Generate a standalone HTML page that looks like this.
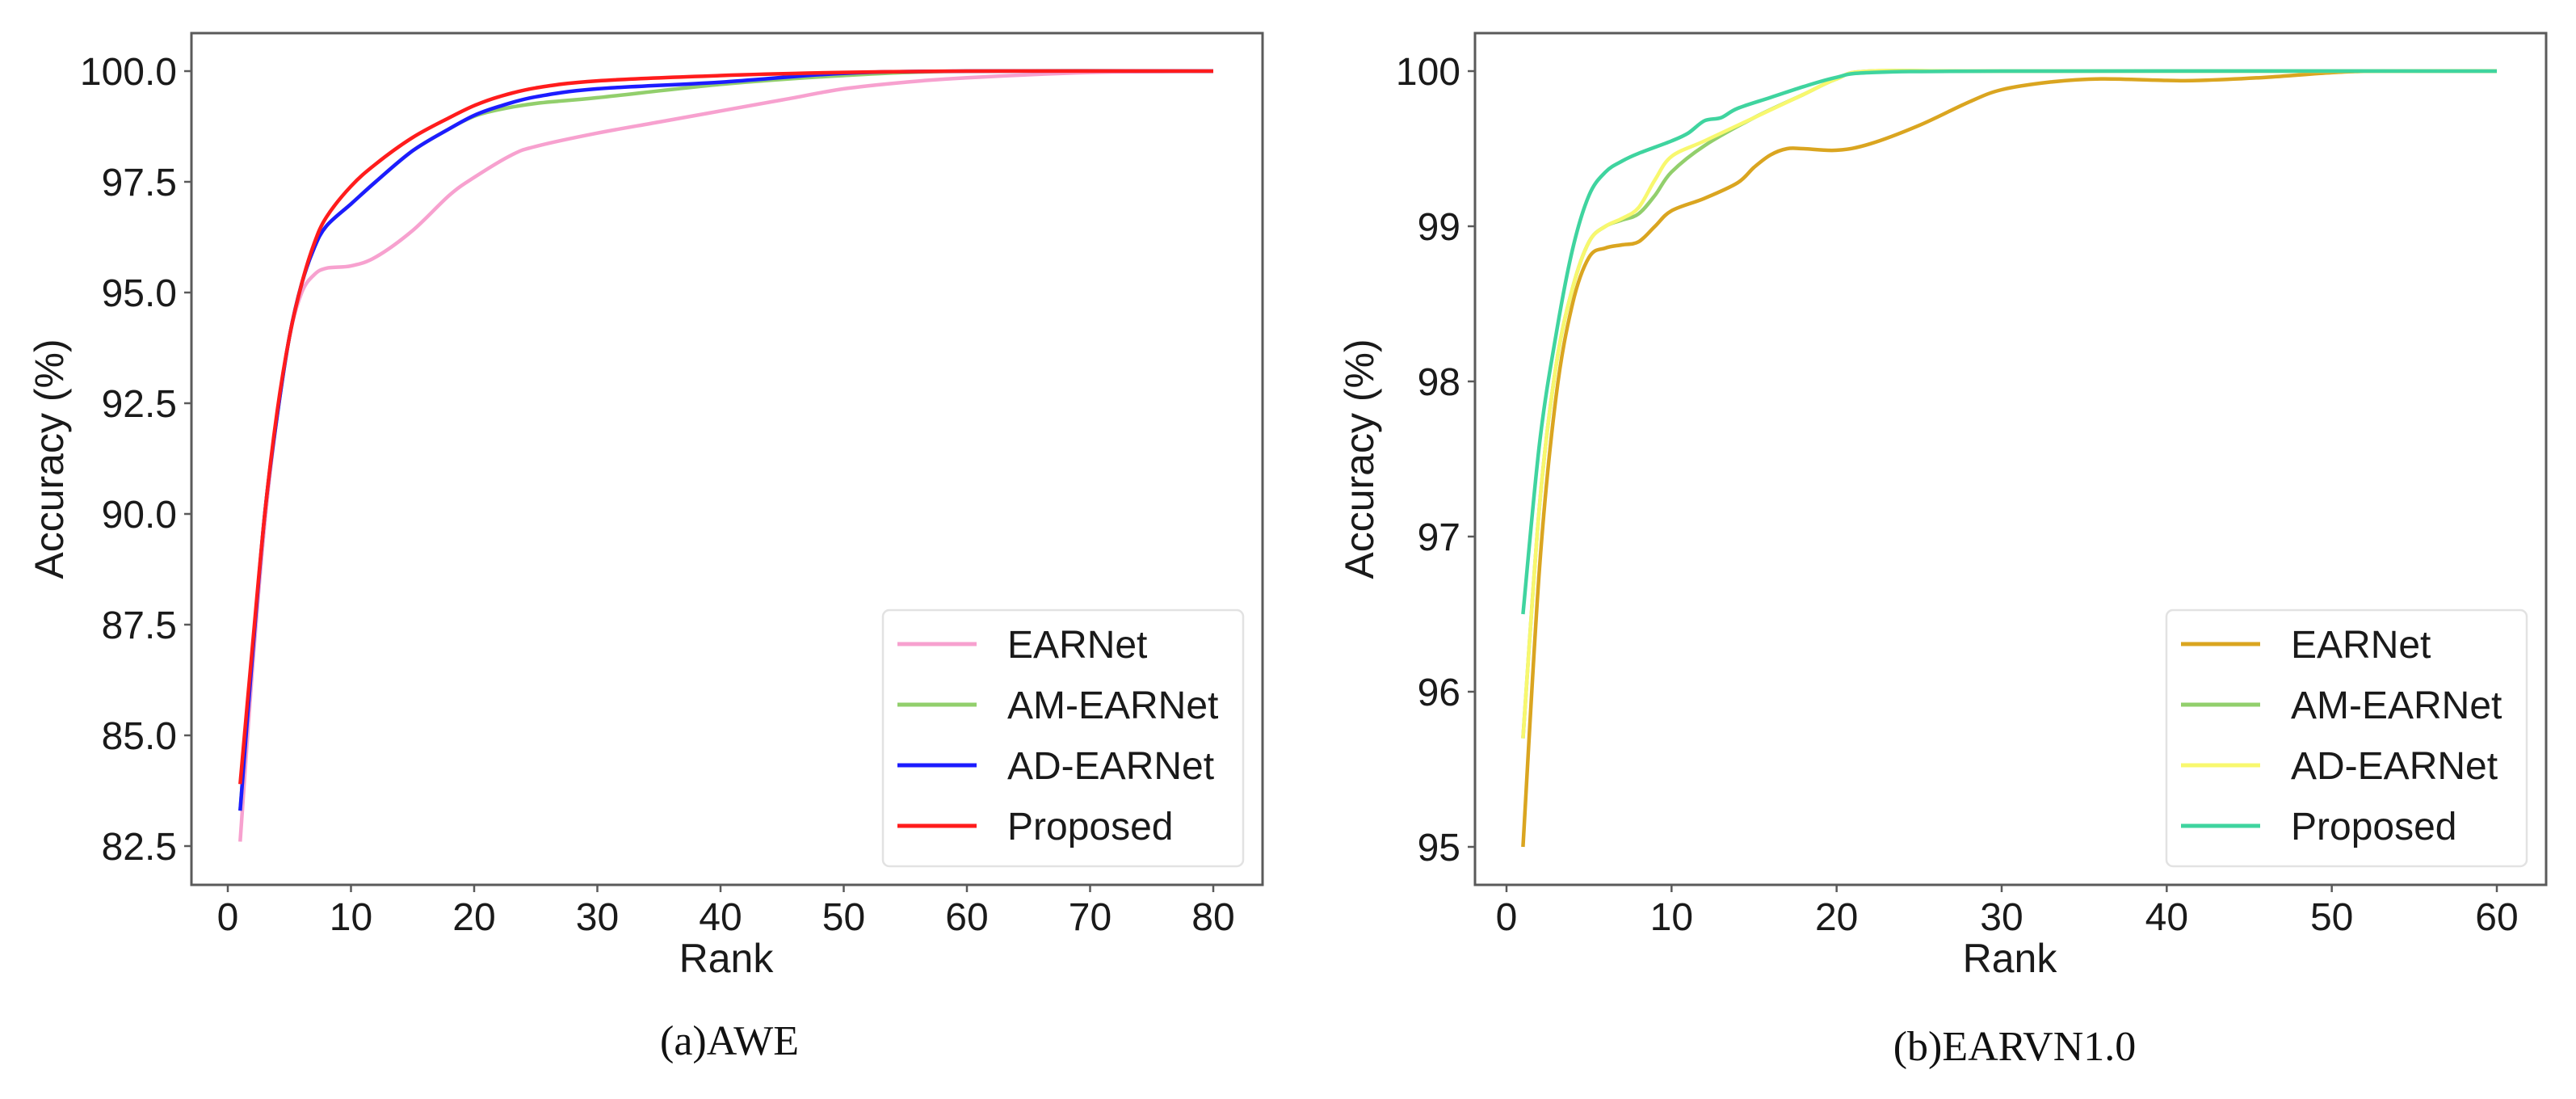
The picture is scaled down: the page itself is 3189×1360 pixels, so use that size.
<!DOCTYPE html>
<html><head><meta charset="utf-8">
<style>
html,body{margin:0;padding:0;background:#fff;}
svg{display:block;}
</style></head>
<body>
<svg id="fig" width="3189" height="1360" viewBox="0 0 3189 1360" xmlns="http://www.w3.org/2000/svg">
<rect x="0" y="0" width="3189" height="1360" fill="#fff"/>
</svg>
<script>
// ---- Panel (a) AWE data ----
const awe_x_ticks = [0,10,20,30,40,50,60,70,80];
const awe_y_ticks = [82.5,85.0,87.5,90.0,92.5,95.0,97.5,100.0];
const awe_y_labels = ["82.5","85.0","87.5","90.0","92.5","95.0","97.5","100.0"];
const awe_series_names = ["EARNet","AM-EARNet","AD-EARNet","Proposed"];
const awe_earnet_x = [1,2,3,4,5,6,7,8,10,12,15,18,20,23,25,30,35,40,45,50,55,60,70,80];
const awe_earnet_y = [82.6,86.5,89.8,92.2,94.0,95.0,95.4,95.55,95.6,95.8,96.4,97.2,97.6,98.1,98.3,98.6,98.85,99.1,99.35,99.6,99.75,99.85,99.97,100];
const awe_am_x = [1,2,3,4,5,6,7,8,10,12,15,18,20,22,25,30,40,50,60,80];
const awe_am_y = [83.3,86.8,90.0,92.2,94.0,95.2,96.0,96.5,97.0,97.5,98.2,98.7,98.98,99.13,99.27,99.4,99.7,99.9,100,100];
const awe_ad_x = [1,2,3,4,5,6,7,8,10,12,15,18,20,22,25,30,40,50,60,80];
const awe_ad_y = [83.3,86.8,90.0,92.2,94.0,95.2,96.0,96.5,97.0,97.5,98.2,98.7,99.0,99.2,99.42,99.6,99.75,99.95,100,100];
const awe_prop_x = [1,2,3,4,5,6,7,8,10,12,15,18,20,22,25,30,40,50,60,80];
const awe_prop_y = [83.9,87.0,90.0,92.3,94.0,95.2,96.1,96.7,97.4,97.9,98.5,98.95,99.22,99.42,99.62,99.78,99.9,99.97,100,100];

// ---- Panel (b) EARVN1.0 data ----
const vn_x_ticks = [0,10,20,30,40,50,60];
const vn_y_ticks = [95,96,97,98,99,100];
const vn_y_labels = ["95","96","97","98","99","100"];
const vn_series_names = ["EARNet","AM-EARNet","AD-EARNet","Proposed"];
const vn_earnet_x = [1,2,3,4,5,6,7,8,9,10,12,14,15,16,17,18,20,22,25,28,30,33,36,40,42,46,50,53,60];
const vn_earnet_y = [95.0,96.8,97.9,98.5,98.8,98.86,98.88,98.9,99.0,99.1,99.18,99.28,99.38,99.46,99.5,99.5,99.49,99.53,99.65,99.8,99.88,99.93,99.95,99.94,99.94,99.96,99.99,100,100];
const vn_am_x = [1,2,3,4,5,6,7,8,9,10,12,15,18,20,22,30,60];
const vn_am_y = [95.7,97.2,98.1,98.6,98.9,99.0,99.04,99.08,99.2,99.35,99.52,99.7,99.85,99.95,100,100,100];
const vn_ad_x = [1,2,3,4,5,6,7,8,9,10,12,15,18,20,22,30,60];
const vn_ad_y = [95.7,97.2,98.1,98.6,98.9,99.0,99.05,99.12,99.3,99.45,99.55,99.7,99.85,99.95,100,100,100];
const vn_prop_x = [1,2,3,4,5,6,7,8,10,11,12,13,14,16,18,20,22,30,60];
const vn_prop_y = [96.5,97.6,98.3,98.85,99.2,99.35,99.42,99.47,99.55,99.6,99.68,99.7,99.76,99.83,99.9,99.96,99.99,100,100];

const NS = "http://www.w3.org/2000/svg";
const svg = document.getElementById('fig');
function mk(tag, attrs, parent){
  const e = document.createElementNS(NS, tag);
  for (const k in attrs) e.setAttribute(k, attrs[k]);
  (parent||svg).appendChild(e);
  return e;
}
function smoothPath(pts){
  let d = "M"+pts[0][0].toFixed(1)+","+pts[0][1].toFixed(1);
  for (let i=0;i<pts.length-1;i++){
    const p0 = pts[Math.max(0,i-1)], p1 = pts[i], p2 = pts[i+1], p3 = pts[Math.min(pts.length-1,i+2)];
    const t = 6;
    const c1 = [p1[0]+(p2[0]-p0[0])/t, p1[1]+(p2[1]-p0[1])/t];
    const c2 = [p2[0]-(p3[0]-p1[0])/t, p2[1]-(p3[1]-p1[1])/t];
    d += " C"+c1[0].toFixed(1)+","+c1[1].toFixed(1)+" "+c2[0].toFixed(1)+","+c2[1].toFixed(1)+" "+p2[0].toFixed(1)+","+p2[1].toFixed(1);
  }
  return d;
}

function panel(cfg){
  const g = mk('g', {});
  
  
  const xs = v => cfg.x0px + (v - cfg.x0v) * (cfg.x1px - cfg.x0px) / (cfg.x1v - cfg.x0v);
  const ys = v => cfg.y0px + (v - cfg.y0v) * (cfg.y1px - cfg.y0px) / (cfg.y1v - cfg.y0v);
  const F = cfg.frame;
  cfg.series.forEach(s => {
    const pts = s.x.map((xv,i)=>[xs(xv), ys(s.y[i])]);
    const p = mk('path', {d: smoothPath(pts), fill:'none', stroke:s.color, 'stroke-width':4.5, 'stroke-linejoin':'round'}, g);
    
    
  });
  const fr = mk('rect', {x:F[0], y:F[1], width:F[2]-F[0], height:F[3]-F[1], fill:'none', stroke:'#5a5a5a', 'stroke-width':3}, g);
  
  
  cfg.xticks.forEach(v => {
    const x = xs(v);
    mk('line', {x1:x, y1:F[3], x2:x, y2:F[3]+9, stroke:'#5a5a5a', 'stroke-width':2.5}, g);
    const t = mk('text', {x:x, y:F[3]+56, 'text-anchor':'middle', 'font-size':48, fill:'#1a1a1a', 'font-family':'Liberation Sans, sans-serif'}, g);
    t.textContent = String(v);
    
    
  });
  cfg.yticks.forEach((v,i) => {
    const y = ys(v);
    mk('line', {x1:F[0]-9, y1:y, x2:F[0], y2:y, stroke:'#5a5a5a', 'stroke-width':2.5}, g);
    const t = mk('text', {x:F[0]-18, y:y+17, 'text-anchor':'end', 'font-size':48, fill:'#1a1a1a', 'font-family':'Liberation Sans, sans-serif'}, g);
    t.textContent = cfg.ylabels[i];
    
    
  });
  const xt = mk('text', {x:cfg.xTitle[0], y:cfg.xTitle[1], 'text-anchor':'middle', 'font-size':50, fill:'#1a1a1a', 'font-family':'Liberation Sans, sans-serif'}, g);
  xt.textContent = 'Rank';
  
  
  const yt = mk('text', {x:0, y:0, transform:'translate('+cfg.yTitle[0]+','+cfg.yTitle[1]+') rotate(-90)', 'text-anchor':'middle', 'font-size':50, fill:'#1a1a1a', 'font-family':'Liberation Sans, sans-serif'}, g);
  yt.textContent = 'Accuracy (%)';
  
  
  const L = cfg.legend;
  const lg = mk('g', {}, g);
  
  
  mk('rect', {x:L[0], y:L[1], width:L[2]-L[0], height:L[3]-L[1], rx:8, fill:'#fff', stroke:'#e2e2e2', 'stroke-width':2.5}, lg);
  cfg.series.forEach((s,i) => {
    const y = L[1] + 42 + i*75;
    const ln = mk('line', {x1:L[0]+18, y1:y, x2:L[0]+116, y2:y, stroke:s.color, 'stroke-width':5}, lg);
    
    
    const t = mk('text', {x:L[0]+154, y:y+17, 'font-size':48, fill:'#1a1a1a', 'font-family':'Liberation Sans, sans-serif'}, lg);
    t.textContent = s.label;
    
    
  });
  const cap = mk('text', {x:cfg.caption[0], y:cfg.caption[1], 'text-anchor':'middle', 'font-size':52, fill:'#111', 'font-family':'Liberation Serif, serif'}, g);
  cap.textContent = cfg.captionText;
  
  
}

panel({
  name:'awe-chart', frame:[237,41,1563,1095],
  x0v:0, x1v:80, x0px:282, x1px:1502,
  y0v:100, y1v:82.5, y0px:88, y1px:1047,
  xticks:awe_x_ticks, yticks:awe_y_ticks, ylabels:awe_y_labels,
  series:[
    {id:'awe-earnet-line', label:awe_series_names[0], color:'#f7a1cf', x:awe_earnet_x, y:awe_earnet_y},
    {id:'awe-am-earnet-line', label:awe_series_names[1], color:'#92cf6c', x:awe_am_x, y:awe_am_y},
    {id:'awe-ad-earnet-line', label:awe_series_names[2], color:'#1c1cff', x:awe_ad_x, y:awe_ad_y},
    {id:'awe-proposed-line', label:awe_series_names[3], color:'#ff1c1c', x:awe_prop_x, y:awe_prop_y}
  ],
  legend:[1093,755,1539,1072],
  xTitle:[899,1203], yTitle:[78,568], caption:[903,1305], captionText:'(a)AWE'
});
panel({
  name:'earvn-chart', frame:[1826,41,3152,1095],
  x0v:0, x1v:60, x0px:1865, x1px:3091,
  y0v:100, y1v:95, y0px:88, y1px:1048,
  xticks:vn_x_ticks, yticks:vn_y_ticks, ylabels:vn_y_labels,
  series:[
    {id:'earvn-earnet-line', label:vn_series_names[0], color:'#daa520', x:vn_earnet_x, y:vn_earnet_y},
    {id:'earvn-am-earnet-line', label:vn_series_names[1], color:'#92cf6c', x:vn_am_x, y:vn_am_y},
    {id:'earvn-ad-earnet-line', label:vn_series_names[2], color:'#f8f86e', x:vn_ad_x, y:vn_ad_y},
    {id:'earvn-proposed-line', label:vn_series_names[3], color:'#3fd49f', x:vn_prop_x, y:vn_prop_y}
  ],
  legend:[2682,755,3128,1072],
  xTitle:[2488,1203], yTitle:[1700,568], caption:[2494,1312], captionText:'(b)EARVN1.0'
});
</script>
</body></html>
